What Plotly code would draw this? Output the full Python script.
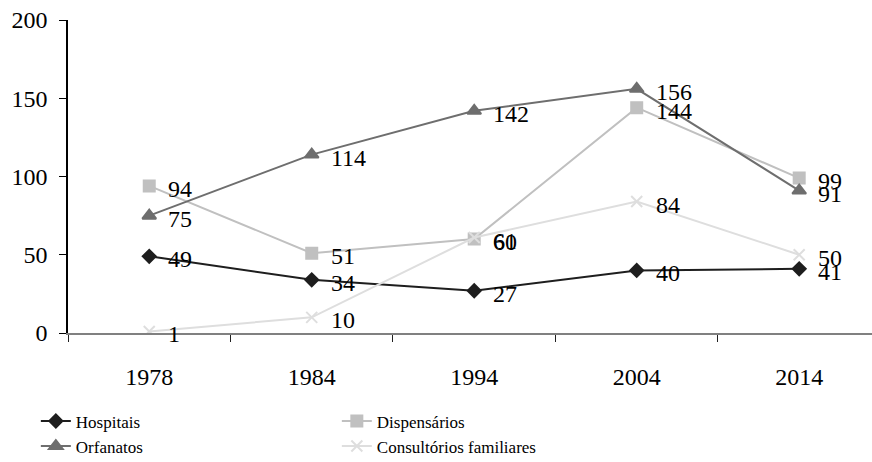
import plotly.graph_objects as go

years = ["1978", "1984", "1994", "2004", "2014"]
hospitais = [49, 34, 27, 40, 41]
dispensarios = [94, 51, 60, 144, 99]
orfanatos = [75, 114, 142, 156, 91]
consultorios = [1, 10, 61, 84, 50]

series = [
    ("Hospitais", hospitais, "#1e1e1e", "diamond", 10),
    ("Dispensários", dispensarios, "#c0c0c0", "square", 11),
    ("Orfanatos", orfanatos, "#6e6e6e", "triangle-up", 12),
    ("Consultórios familiares", consultorios, "#dedede", "x-thin", 11),
]

FONT = "Liberation Serif"
fig = go.Figure()
annotations = []
for name, vals, color, sym, size in series:
    fig.add_trace(go.Scatter(
        x=years, y=vals, name=name, mode="lines+markers",
        line=dict(color=color, width=2),
        marker=dict(symbol=sym, size=size, color=color,
                    line=dict(color=color, width=2)),
    ))
    for i, v in enumerate(vals):
        annotations.append(dict(
            x=i, y=v, xref="x", yref="y", text=str(v), showarrow=False,
            xanchor="left", yanchor="middle", xshift=17, yshift=-3,
            font=dict(family=FONT, size=24, color="black"),
        ))

fig.update_layout(
    width=872, height=462,
    margin=dict(l=68, r=0, t=20, b=129, autoexpand=False),
    paper_bgcolor="white", plot_bgcolor="white",
    font=dict(family=FONT, size=22, color="black"),
    showlegend=True,
    annotations=annotations,
    legend=dict(
        orientation="h", x=-0.04, y=-0.225, xanchor="left", yanchor="top",
        entrywidth=256, entrywidthmode="pixels",
        font=dict(family=FONT, size=17, color="black"),
        itemwidth=30, tracegroupgap=0,
        bgcolor="rgba(0,0,0,0)",
    ),
    xaxis=dict(
        type="category", range=[-0.5, 4.448],
        showline=True, linecolor="#808080", linewidth=1.5,
        ticks="outside", tickson="boundaries", ticklen=7,
        tickcolor="#202020", showgrid=False, zeroline=False,
        ticklabelstandoff=21,
        tickfont=dict(family=FONT, size=24, color="black"),
    ),
    yaxis=dict(
        range=[0, 200], tickvals=[0, 50, 100, 150, 200],
        showline=True, linecolor="black", linewidth=1.5,
        ticks="outside", ticklen=7, tickcolor="black",
        showgrid=False, zeroline=False, ticklabelstandoff=7,
        tickfont=dict(family=FONT, size=24, color="black"),
    ),
)

fig.write_html(
    "out.html",
    config={"displayModeBar": False},
    post_script="document.body.style.margin='0';document.body.style.overflow='hidden';",
)
